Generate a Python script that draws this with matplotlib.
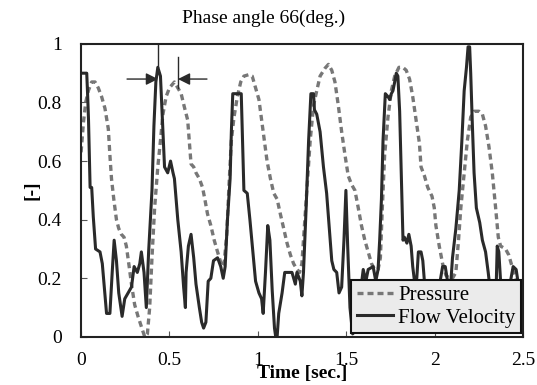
import matplotlib
matplotlib.use("Agg")
import matplotlib.pyplot as plt

# Flow velocity (solid)
flow_t = [0.0, 0.032, 0.038, 0.042, 0.051, 0.06, 0.069, 0.082, 0.107, 0.12, 0.131, 0.144, 0.163,
          0.176, 0.187, 0.2, 0.213, 0.232, 0.247, 0.266, 0.285, 0.30, 0.318, 0.332, 0.341, 0.356,
          0.369, 0.382, 0.401, 0.412, 0.423, 0.434, 0.449, 0.461, 0.472, 0.49, 0.506, 0.52, 0.528,
          0.547, 0.566, 0.58, 0.59, 0.594, 0.607, 0.622, 0.637, 0.65, 0.669, 0.682, 0.693, 0.706,
          0.719, 0.734, 0.749, 0.772, 0.79, 0.804, 0.815, 0.828, 0.843, 0.85, 0.858, 0.906, 0.914,
          0.921, 0.94, 0.955, 0.972, 0.987, 1.006, 1.021, 1.03, 1.043, 1.056, 1.068, 1.081, 1.094,
          1.101, 1.109, 1.118, 1.137, 1.152, 1.193, 1.212, 1.221, 1.24, 1.249, 1.258, 1.273, 1.287,
          1.3, 1.315, 1.32, 1.333, 1.352, 1.371, 1.389, 1.404, 1.418, 1.43, 1.446, 1.459, 1.474,
          1.487, 1.498, 1.508, 1.521, 1.536, 1.55, 1.565, 1.58, 1.596, 1.611, 1.624, 1.652, 1.667,
          1.68, 1.689, 1.699, 1.708, 1.721, 1.736, 1.746, 1.755, 1.764, 1.774, 1.783, 1.792, 1.802,
          1.811, 1.821, 1.829, 1.843, 1.854, 1.867, 1.876, 1.886, 1.899, 1.908, 1.923, 1.933, 1.942,
          1.96, 1.98, 2.0, 2.02, 2.045, 2.06, 2.073, 2.092, 2.101, 2.12, 2.139, 2.154, 2.167, 2.18,
          2.189, 2.198, 2.204, 2.213, 2.223, 2.236, 2.255, 2.27, 2.288, 2.303, 2.316, 2.33, 2.345,
          2.354, 2.363, 2.373, 2.40, 2.429, 2.444, 2.461, 2.476, 2.49]
flow_v = [0.90, 0.90, 0.81, 0.74, 0.51, 0.51, 0.41, 0.30, 0.29, 0.25, 0.17, 0.08, 0.08,
          0.22, 0.33, 0.26, 0.15, 0.07, 0.13, 0.15, 0.17, 0.24, 0.22, 0.25, 0.29, 0.22,
          0.10, 0.29, 0.50, 0.72, 0.87, 0.92, 0.89, 0.73, 0.58, 0.56, 0.60, 0.56, 0.54,
          0.40, 0.29, 0.17, 0.10, 0.22, 0.31, 0.35, 0.27, 0.18, 0.10, 0.05, 0.03, 0.05,
          0.19, 0.20, 0.26, 0.27, 0.24, 0.20, 0.24, 0.40, 0.54, 0.70, 0.83, 0.83, 0.65,
          0.50, 0.49, 0.40, 0.29, 0.19, 0.15, 0.13, 0.08, 0.22, 0.38, 0.33, 0.16, 0.03,
          0.0, 0.0, 0.08, 0.15, 0.22, 0.22, 0.18, 0.22, 0.19, 0.14, 0.22, 0.44, 0.67,
          0.83, 0.83, 0.775, 0.76, 0.70, 0.58, 0.49, 0.37, 0.26, 0.23, 0.22, 0.15, 0.17,
          0.33, 0.50, 0.31, 0.10, 0.01, 0.02, 0.10, 0.15, 0.23, 0.19, 0.23, 0.24, 0.19,
          0.23, 0.33, 0.47, 0.67, 0.83, 0.82, 0.81, 0.83, 0.84, 0.87, 0.90, 0.89, 0.77,
          0.56, 0.33, 0.34, 0.32, 0.35, 0.31, 0.24, 0.19, 0.20, 0.29, 0.29, 0.26, 0.19,
          0.10, 0.06, 0.12, 0.15, 0.24, 0.24, 0.19, 0.19, 0.27, 0.37, 0.50, 0.67, 0.84, 0.92,
          0.99, 0.99, 0.90, 0.73, 0.56, 0.44, 0.39, 0.33, 0.29, 0.22, 0.15, 0.10, 0.10,
          0.31, 0.29, 0.19, 0.12, 0.19, 0.24, 0.23, 0.17, 0.12]

# Pressure (dashed)
pres_t = [0.0, 0.013, 0.026, 0.041, 0.06, 0.079, 0.097, 0.116, 0.135, 0.154, 0.163, 0.172, 0.185,
          0.2, 0.213, 0.228, 0.243, 0.256, 0.272, 0.285, 0.303, 0.322, 0.341, 0.36, 0.375, 0.388,
          0.401, 0.416, 0.434, 0.449, 0.463, 0.481, 0.5, 0.528, 0.547, 0.566, 0.584, 0.603, 0.612,
          0.622, 0.637, 0.65, 0.669, 0.687, 0.70, 0.715, 0.734, 0.753, 0.772, 0.787, 0.80, 0.809,
          0.824, 0.837, 0.85, 0.865, 0.884, 0.903, 0.921, 0.949, 0.968, 0.987, 1.006, 1.019, 1.034,
          1.052, 1.071, 1.09, 1.109, 1.127, 1.146, 1.165, 1.184, 1.202, 1.221, 1.236, 1.249, 1.258,
          1.277, 1.296, 1.315, 1.333, 1.352, 1.38, 1.399, 1.418, 1.436, 1.455, 1.474, 1.493, 1.511,
          1.53, 1.549, 1.568, 1.586, 1.605, 1.624, 1.643, 1.661, 1.68, 1.693, 1.704, 1.717, 1.736,
          1.755, 1.774, 1.798, 1.82, 1.839, 1.858, 1.876, 1.895, 1.914, 1.923, 1.942, 1.961, 1.985,
          1.998, 2.007, 2.026, 2.045, 2.064, 2.082, 2.101, 2.12, 2.135, 2.148, 2.167, 2.185, 2.204,
          2.223, 2.251, 2.27, 2.288, 2.307, 2.326, 2.345, 2.36, 2.373, 2.401, 2.419, 2.438, 2.457,
          2.476, 2.49]
pres_v = [0.63, 0.73, 0.80, 0.84, 0.87, 0.87, 0.85, 0.82, 0.78, 0.71, 0.62, 0.54, 0.47,
          0.40, 0.37, 0.35, 0.34, 0.31, 0.24, 0.18, 0.11, 0.07, 0.035, 0.0, 0.01, 0.10,
          0.27, 0.44, 0.58, 0.67, 0.76, 0.82, 0.85, 0.87, 0.85, 0.83, 0.785, 0.74, 0.67,
          0.59, 0.58, 0.56, 0.54, 0.51, 0.47, 0.42, 0.38, 0.33, 0.29, 0.26, 0.24, 0.25,
          0.35, 0.52, 0.67, 0.75, 0.82, 0.87, 0.89, 0.895, 0.89, 0.85, 0.81, 0.75, 0.68,
          0.60, 0.54, 0.49, 0.47, 0.42, 0.37, 0.32, 0.28, 0.25, 0.23, 0.22, 0.25, 0.33,
          0.50, 0.67, 0.79, 0.84, 0.89, 0.917, 0.93, 0.91, 0.87, 0.79, 0.70, 0.62, 0.55,
          0.52, 0.50, 0.44, 0.38, 0.33, 0.29, 0.25, 0.23, 0.23, 0.27, 0.44, 0.62, 0.75,
          0.84, 0.89, 0.92, 0.92, 0.91, 0.88, 0.82, 0.74, 0.66, 0.58, 0.55, 0.51, 0.48,
          0.44, 0.38, 0.31, 0.25, 0.21, 0.20, 0.20, 0.22, 0.33, 0.44, 0.56, 0.67, 0.75,
          0.77, 0.77, 0.76, 0.72, 0.65, 0.56, 0.44, 0.34, 0.31, 0.30, 0.28, 0.24, 0.20,
          0.17, 0.13]

x_ticks = [0, 0.5, 1, 1.5, 2, 2.5]
x_tick_labels = ["0", "0.5", "1", "1.5", "2", "2.5"]
y_ticks = [0, 0.2, 0.4, 0.6, 0.8, 1]
y_tick_labels = ["0", "0.2", "0.4", "0.6", "0.8", "1"]

plt.rcParams['font.family'] = ['Liberation Serif', 'DejaVu Serif']

fig = plt.figure(figsize=(5.37, 3.85), dpi=100)
ax = fig.add_axes([0.151, 0.125, 0.823, 0.761])

ax.plot(pres_t, pres_v, color="#777777", linewidth=2.4, linestyle=(0, (1.8, 1.2)), label="Pressure")
ax.plot(flow_t, flow_v, color="#2a2a2a", linewidth=2.2, label="Flow Velocity")

# phase shift markers
ax.plot([0.435, 0.435], [1.0, 0.92], color="#2a2a2a", linewidth=1.0, clip_on=False)
ax.plot([0.548, 0.548], [0.956, 0.85], color="#2a2a2a", linewidth=1.0)
arrow_style = dict(arrowstyle="-|>", color="#2a2a2a", lw=1.0, mutation_scale=18, shrinkA=0, shrinkB=0)
ax.annotate("", xy=(0.435, 0.88), xytext=(0.26, 0.88), arrowprops=arrow_style)
ax.annotate("", xy=(0.548, 0.88), xytext=(0.712, 0.88), arrowprops=arrow_style)

ax.set_xlim(0, 2.5)
ax.set_ylim(0, 1)
ax.set_xticks(x_ticks)
ax.set_xticklabels(x_tick_labels)
ax.set_yticks(y_ticks)
ax.set_yticklabels(y_tick_labels)
ax.tick_params(direction="in", length=4, width=0.8, labelsize=14, color="#555555")
ax.tick_params(axis="y", pad=14)
ax.tick_params(axis="x", pad=11)
for side in ["left", "bottom", "right", "top"]:
    ax.spines[side].set_linewidth(1.5)
    ax.spines[side].set_color("#222222")

ax.set_xlabel("Time [sec.]", fontsize=14, fontweight="bold", labelpad=-3)
ax.set_ylabel("[-]", fontsize=14, fontweight="bold", labelpad=-2)
ax.set_title("Phase angle 66(deg.)", fontsize=14, x=0.414, pad=15)

leg = ax.legend(loc="lower right", bbox_to_anchor=(0.995, 0.014), borderaxespad=0, fontsize=15,
                fancybox=False, framealpha=1, facecolor="#ebebeb", edgecolor="#111111",
                handlelength=1.75, handletextpad=0.25, borderpad=0.25, labelspacing=0.15)
leg.get_frame().set_linewidth(1.5)
leg.set_zorder(5)

fig.savefig("out.png", dpi=100)
